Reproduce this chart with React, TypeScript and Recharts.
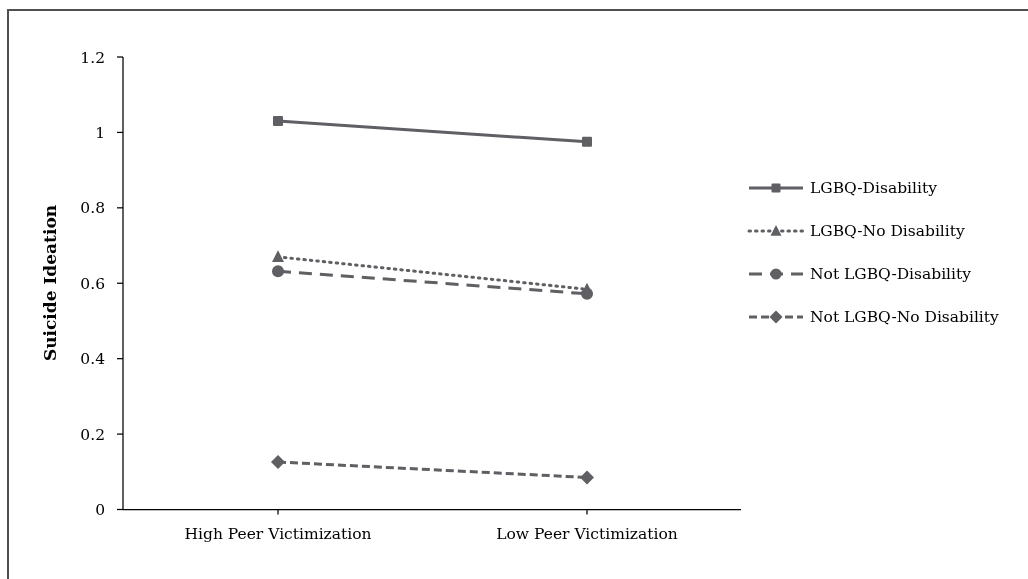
import React from 'react';
import { LineChart, Line, XAxis, YAxis, Legend, Label } from 'recharts';

const categories = ['High Peer Victimization', 'Low Peer Victimization'];
const lgbqDisability = [1.03, 0.975];
const lgbqNoDisability = [0.67, 0.584];
const notLgbqDisability = [0.632, 0.572];
const notLgbqNoDisability = [0.126, 0.085];
const seriesNames = ['LGBQ-Disability', 'LGBQ-No Disability', 'Not LGBQ-Disability', 'Not LGBQ-No Disability'];
const yTicks = [0, 0.2, 0.4, 0.6, 0.8, 1, 1.2];
const yAxisTitle = 'Suicide Ideation';

const FONT = '"DejaVu Serif", serif';
const GRAY = '#5f5f64';

const data = categories.map((c, i) => ({
  category: c,
  s0: lgbqDisability[i],
  s1: lgbqNoDisability[i],
  s2: notLgbqDisability[i],
  s3: notLgbqNoDisability[i],
}));

type Shape = 'square' | 'triangle' | 'circle' | 'diamond';

const styles: { key: string; shape: Shape; dash?: string; size: number; cap: 'butt' | 'round' }[] = [
  { key: 's0', shape: 'square', size: 10, cap: 'butt' },
  { key: 's1', shape: 'triangle', dash: '1.5 5', size: 12, cap: 'round' },
  { key: 's2', shape: 'circle', dash: '13 8', size: 12, cap: 'butt' },
  { key: 's3', shape: 'diamond', dash: '8 4', size: 14, cap: 'butt' },
];

function Marker({ shape, cx, cy, size }: { shape: Shape; cx: number; cy: number; size: number }) {
  const h = size / 2;
  if (shape === 'square') return <rect x={cx - h} y={cy - h} width={size} height={size} rx={1} fill={GRAY} />;
  if (shape === 'circle') return <circle cx={cx} cy={cy} r={h} fill={GRAY} />;
  if (shape === 'triangle')
    return <polygon points={`${cx},${cy - h * 1.1} ${cx + h * 1.0},${cy + h * 0.85} ${cx - h * 1.0},${cy + h * 0.85}`} fill={GRAY} />;
  return <polygon points={`${cx},${cy - h} ${cx + h},${cy} ${cx},${cy + h} ${cx - h},${cy}`} fill={GRAY} />;
}

function renderLegend() {
  return (
    <svg width={271} height={180} style={{ display: 'block', overflow: 'visible' }}>
      {styles.map((s, i) => {
        const y = 20 + i * 43;
        return (
          <g key={s.key}>
            <line x1={0} x2={54} y1={y} y2={y} stroke={GRAY} strokeWidth={3} strokeDasharray={s.dash} strokeLinecap={s.cap} />
            <Marker shape={s.shape} cx={27} cy={y} size={s.size - 1} />
            <text x={61} y={y} dominantBaseline="central" fontFamily={FONT} fontSize={15.5} fill="#000">
              {seriesNames[i]}
            </text>
          </g>
        );
      })}
    </svg>
  );
}

export default function App() {
  return (
    <div style={{ position: 'relative', width: 1012, height: 550 }}>
      <div
        style={{
          position: 'fixed',
          left: 7,
          top: 9,
          width: 1021,
          height: 570,
          borderTop: '2px solid #505050',
          borderLeft: '2px solid #505050',
          boxSizing: 'border-box',
          pointerEvents: 'none',
        }}
      />
      <LineChart width={1012} height={550} data={data} margin={{ top: 49, right: 279, bottom: 8.5, left: 0 }}>
        <XAxis
          dataKey="category"
          padding={{ left: 155, right: 154 }}
          axisLine={{ stroke: '#000', strokeWidth: 1.25 }}
          tickLine={{ stroke: '#000', strokeWidth: 1.25 }}
          tickSize={5}
          tickMargin={13}
          height={40}
          tick={{ fontFamily: FONT, fontSize: 15.5, fill: '#000' }}
        />
        <YAxis
          domain={[0, 1.2]}
          ticks={yTicks}
          width={115}
          axisLine={{ stroke: '#000', strokeWidth: 1.25 }}
          tickLine={{ stroke: '#000', strokeWidth: 1.25 }}
          tickSize={6}
          tickMargin={12}
          interval={0}
          tick={{ fontFamily: FONT, fontSize: 15.5, fill: '#000' }}
        >
          <Label
            content={() => (
              <text
                x={42}
                y={275}
                transform="rotate(-90 42 275)"
                textAnchor="middle"
                dominantBaseline="central"
                fontFamily={FONT}
                fontWeight="bold"
                fontSize={17}
                fill="#000"
              >
                {yAxisTitle}
              </text>
            )}
          />
        </YAxis>
        <Legend
          layout="horizontal"
          align="center"
          verticalAlign="middle"
          content={renderLegend}
          wrapperStyle={{ left: 741, top: 160, width: 271, height: 180 }}
        />
        {styles.map((s, i) => (
          <Line
            key={s.key}
            dataKey={s.key}
            name={seriesNames[i]}
            stroke={GRAY}
            strokeWidth={3}
            strokeDasharray={s.dash}
            strokeLinecap={s.cap}
            isAnimationActive={false}
            dot={(p: any) => <Marker key={`${s.key}-${p.index}`} shape={s.shape} cx={p.cx} cy={p.cy} size={s.size} />}
            activeDot={false}
          />
        ))}
      </LineChart>
    </div>
  );
}
